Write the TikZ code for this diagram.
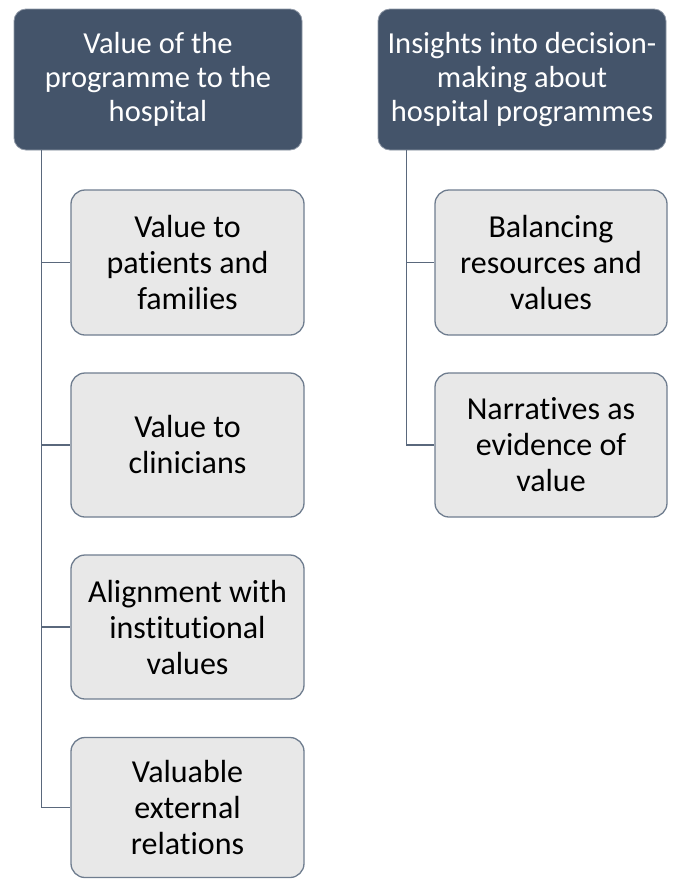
\documentclass[tikz,border=0pt]{standalone}
\usepackage{fontspec}
\setmainfont{Carlito}[Ligatures=NoCommon]
\definecolor{hdr}{HTML}{44546A}
\definecolor{kid}{HTML}{E8E8E8}
\definecolor{kidline}{HTML}{6F7D8F}
\definecolor{conn}{HTML}{5A687C}
\begin{document}
\begin{tikzpicture}[x=1pt,y=-1pt,
  hdrbox/.style={draw=hdr!60!white, line width=0.8pt, fill=hdr, rounded corners=12pt, text=white, align=center, font=\fontsize{30.5}{34}\selectfont, inner sep=0pt},
  kidbox/.style={draw=kidline, line width=1.3pt, fill=kid, rounded corners=14pt, text=black, align=center, font=\fontsize{32}{36}\selectfont, inner sep=0pt},
  link/.style={draw=conn, line width=1.4pt}]
\useasboundingbox (0,0) rectangle (673,879);
% headers
\node[hdrbox, minimum width=288pt, minimum height=141pt] (h1) at (158,79.5) {Value of the\\programme to the\\hospital};
\node[hdrbox, minimum width=288pt, minimum height=141pt] (h2) at (522,79.5) {Insights into decision-\\making about\\hospital programmes};
% left children
\node[kidbox, minimum width=233pt, minimum height=145pt] (a1) at (187.5,262.5) {Value to\\patients and\\families};
\node[kidbox, minimum width=233pt, minimum height=144pt] (a2) at (187.5,445) {Value to\\clinicians};
\node[kidbox, minimum width=233pt, minimum height=144pt] (a3) at (187.5,627) {Alignment with\\institutional\\values};
\node[kidbox, minimum width=233pt, minimum height=140pt] (a4) at (187.5,807.5) {Valuable\\external\\relations};
% right children
\node[kidbox, minimum width=232pt, minimum height=145pt] (b1) at (551,262.5) {Balancing\\resources and\\values};
\node[kidbox, minimum width=232pt, minimum height=144pt] (b2) at (551,445) {Narratives as\\evidence of\\value};
% connectors
\coordinate (l0) at ([xshift=28pt]h1.south west);
\coordinate (r0) at ([xshift=29pt]h2.south west);
\draw[link] (l0) |- (a4.west);
\draw[link] (l0 |- a1.west) -- (a1.west);
\draw[link] (l0 |- a2.west) -- (a2.west);
\draw[link] (l0 |- a3.west) -- (a3.west);
\draw[link] (r0) |- (b2.west);
\draw[link] (r0 |- b1.west) -- (b1.west);
\end{tikzpicture}
\end{document}
